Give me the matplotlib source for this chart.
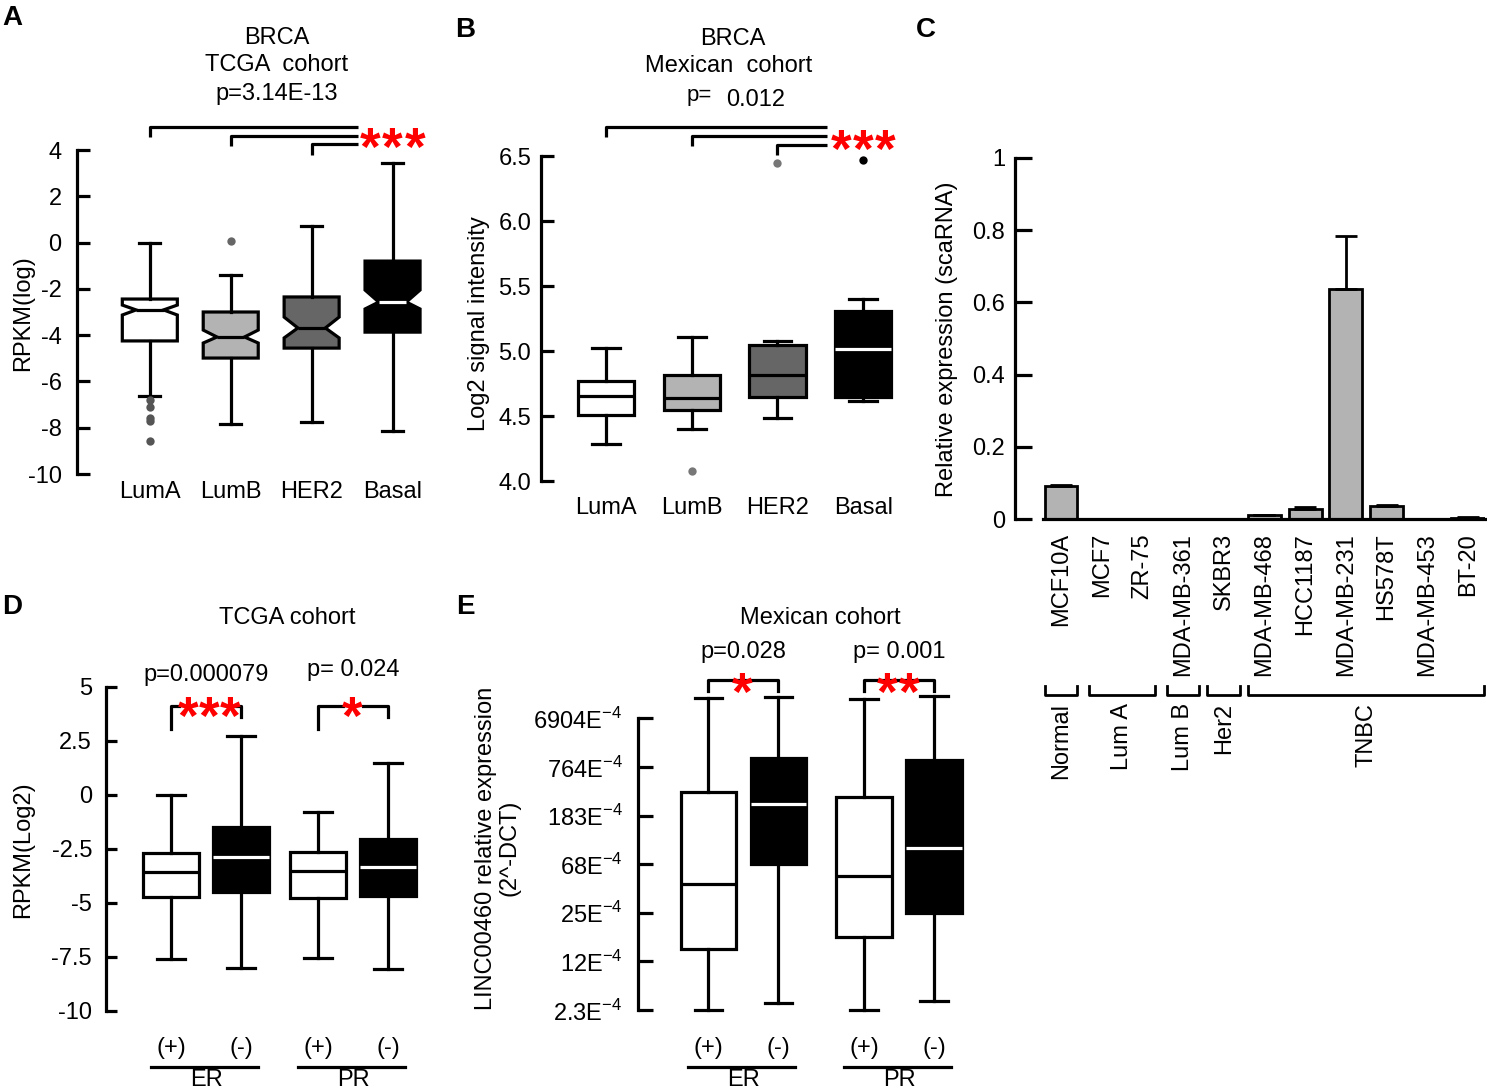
import matplotlib
matplotlib.use('Agg')
import matplotlib.pyplot as plt
from matplotlib.transforms import blended_transform_factory

plt.rcParams['font.family'] = ['Liberation Sans', 'DejaVu Sans']
plt.rcParams['mathtext.fontset'] = 'custom'
plt.rcParams['mathtext.rm'] = 'Liberation Sans'
plt.rcParams['axes.unicode_minus'] = False

W, H = 1487, 1092
LW = 2.3
FS = 17
STAR_FS = 38

# --- A: TCGA subtypes (notched boxes)
a_labels = ['LumA', 'LumB', 'HER2', 'Basal']
a_whislo = [-6.63, -7.86, -7.74, -8.15]
a_q1 = [-4.25, -4.99, -4.56, -3.87]
a_med = [-2.91, -4.08, -3.69, -2.57]
a_q3 = [-2.44, -3.00, -2.35, -0.80]
a_whishi = [0.0, -1.41, 0.72, 3.44]
a_cilo = [-3.13, -4.34, -4.12, -2.87]
a_cihi = [-2.70, -3.78, -3.22, -2.05]
a_fliers = [[-6.8, -7.1, -7.6, -7.7, -8.57], [0.05], [], []]

# --- B: Mexican cohort subtypes
b_labels = ['LumA', 'LumB', 'HER2', 'Basal']
b_whislo = [4.29, 4.40, 4.49, 4.62]
b_q1 = [4.51, 4.55, 4.65, 4.65]
b_med = [4.66, 4.64, 4.82, 5.02]
b_q3 = [4.77, 4.82, 5.05, 5.31]
b_whishi = [5.03, 5.11, 5.08, 5.40]
b_fliers = [[], [4.08], [6.45], [6.47]]

# --- C: cell lines
c_lines = ['MCF10A', 'MCF7', 'ZR-75', 'MDA-MB-361', 'SKBR3', 'MDA-MB-468',
           'HCC1187', 'MDA-MB-231', 'HS578T', 'MDA-MB-453', 'BT-20']
c_values = [0.092, 0, 0, 0, 0, 0.010, 0.028, 0.636, 0.036, 0, 0.004]
c_err = [0.003, 0, 0, 0, 0, 0.002, 0.005, 0.147, 0.003, 0, 0.002]
c_groups = ['Normal', 'Lum A', 'Lum B', 'Her2', 'TNBC']
c_group_span = [(0, 0), (1, 2), (3, 3), (4, 4), (5, 10)]

# --- D: TCGA ER / PR
d_labels = ['(+)', '(-)', '(+)', '(-)']
d_whislo = [-7.62, -8.04, -7.55, -8.06]
d_q1 = [-4.75, -4.49, -4.80, -4.68]
d_med = [-3.56, -2.87, -3.53, -3.33]
d_q3 = [-2.69, -1.48, -2.67, -2.07]
d_whishi = [0.0, 2.72, -0.79, 1.45]

# --- E: Mexican ER / PR (axis in tick steps)
e_ticklabels = ['2.3E$^{-4}$', '12E$^{-4}$', '25E$^{-4}$', '68E$^{-4}$',
                '183E$^{-4}$', '764E$^{-4}$', '6904E$^{-4}$']
e_whislo = [0.01, 0.15, 0.0, 0.19]
e_q1 = [1.26, 3.0, 1.50, 2.0]
e_med = [2.59, 4.24, 2.76, 3.33]
e_q3 = [4.48, 5.19, 4.39, 5.14]
e_whishi = [6.41, 6.43, 6.40, 6.45]

pair_groups = ['ER', 'PR']


def rect(x0, y0, x1, y1):
    return [x0 / W, 1 - y1 / H, (x1 - x0) / W, (y1 - y0) / H]


def px(x, y):
    return x / W, 1 - y / H


def make_stats(lo, q1, med, q3, hi, fl=None, cilo=None, cihi=None):
    out = []
    for i in range(len(med)):
        d = dict(whislo=lo[i], q1=q1[i], med=med[i], q3=q3[i], whishi=hi[i],
                 fliers=fl[i] if fl else [])
        if cilo is not None:
            d['cilo'] = cilo[i]
            d['cihi'] = cihi[i]
        out.append(d)
    return out


def draw_boxes(ax, st, pos, width, capw, faces, medc, notch=False, flc=None, ms=5):
    r = ax.bxp(st, positions=pos, widths=width, capwidths=capw, patch_artist=True,
               shownotches=notch, manage_ticks=False,
               boxprops=dict(lw=LW, edgecolor='black'),
               whiskerprops=dict(lw=LW, color='black'),
               capprops=dict(lw=LW, color='black'),
               medianprops=dict(lw=LW),
               flierprops=dict(marker='o', markersize=ms, markeredgecolor='none'))
    for b, f in zip(r['boxes'], faces):
        b.set_facecolor(f)
    for m, c in zip(r['medians'], medc):
        m.set_color(c)
    if flc:
        for f, c in zip(r['fliers'], flc):
            f.set_markerfacecolor(c)
    for k in r:
        for art in r[k]:
            art.set_clip_on(False)


def style(ax, ticklen, ypad, xpad):
    for s in ['top', 'right', 'bottom']:
        ax.spines[s].set_visible(False)
    ax.spines['left'].set_linewidth(LW)
    ax.tick_params(axis='y', direction='in', length=ticklen, width=LW,
                   pad=ypad, labelsize=FS)
    ax.tick_params(axis='x', length=0, pad=xpad, labelsize=FS)


def stars(xs, yc):
    # red significance asterisks, centred (in pixels) on yc
    for x in xs:
        fig.text(*px(x, yc + 0.57 * STAR_FS * 100 / 72), '*', color='red',
                 fontsize=STAR_FS, fontweight='bold', ha='center', va='baseline')


fig = plt.figure(figsize=(W / 100, H / 100), dpi=100)

# ================= A
axA = fig.add_axes(rect(77, 150, 433, 474))
posA = [1, 2, 3, 4]
draw_boxes(axA, make_stats(a_whislo, a_q1, a_med, a_q3, a_whishi, a_fliers, a_cilo, a_cihi),
           posA, 0.68, 0.26, ['white', '#b3b3b3', '#666666', 'black'],
           ['black', 'black', 'black', 'white'], notch=True,
           flc=['#555555', '#666666', '#666666', 'black'], ms=6)
axA.set_xlim(0.1, 4.5)
axA.set_ylim(-10, 4)
axA.set_yticks(range(-10, 5, 2))
axA.set_xticks(posA, a_labels)
style(axA, 9, 11, 5)
for i, (yl, drop) in enumerate([(4.99, 0.43), (4.6, 0.43), (4.26, 0.48)]):
    axA.plot([posA[i], posA[i], 3.57], [yl - drop, yl, yl], color='black', lw=LW,
             clip_on=False, solid_capstyle='butt')
stars([370, 392, 415], 135)
fig.text(*px(23, 313), 'RPKM(log)', rotation=90, ha='center', va='center', fontsize=FS)
fig.text(*px(277, 38), 'BRCA', ha='center', va='center', fontsize=FS)
fig.text(*px(277, 65), 'TCGA  cohort', ha='center', va='center', fontsize=FS)
fig.text(*px(277, 94), 'p=3.14E-13', ha='center', va='center', fontsize=FS)

# ================= B
axB = fig.add_axes(rect(541, 156.4, 906, 481.4))
posB = [1, 2, 3, 4]
draw_boxes(axB, make_stats(b_whislo, b_q1, b_med, b_q3, b_whishi, b_fliers),
           posB, 0.66, 0.32, ['white', '#b3b3b3', '#666666', 'black'],
           ['black', 'black', 'black', 'white'],
           flc=['#777777', '#777777', '#777777', 'black'], ms=6)
axB.set_xlim(0.24, 4.5)
axB.set_ylim(4.0, 6.5)
axB.set_yticks([4.0, 4.5, 5.0, 5.5, 6.0, 6.5], ['4.0', '4.5', '5.0', '5.5', '6.0', '6.5'])
axB.set_xticks(posB, b_labels)
style(axB, 9, 7, 11)
for i, yl in enumerate([6.726, 6.656, 6.586]):
    axB.plot([posB[i], posB[i], 3.58], [yl - 0.078, yl, yl], color='black', lw=LW,
             clip_on=False, solid_capstyle='butt')
stars([841, 863, 885], 137)
fig.text(*px(479, 324), 'Log2 signal intensity', rotation=90, ha='center', va='center', fontsize=FS)
fig.text(*px(733, 39), 'BRCA', ha='center', va='center', fontsize=FS)
fig.text(*px(729, 66), 'Mexican  cohort', ha='center', va='center', fontsize=FS)
fig.text(*px(699, 96), 'p=', ha='center', va='center', fontsize=16)
fig.text(*px(756, 100), '0.012', ha='center', va='center', fontsize=FS)

# ================= C
axC = fig.add_axes(rect(1015, 158, 1485, 519))
posC = list(range(len(c_lines)))
axC.bar(posC, c_values, width=0.81, color='#b3b3b3', edgecolor='black', lw=2)
axC.errorbar(posC, c_values, yerr=[[0] * len(c_err), c_err], fmt='none', ecolor='black',
             elinewidth=2, capsize=8, capthick=2)
axC.set_xlim(-1.13, 10.42)
axC.set_ylim(0, 1)
axC.set_yticks([0, 0.2, 0.4, 0.6, 0.8, 1], ['0', '0.2', '0.4', '0.6', '0.8', '1'])
axC.set_xticks(posC, c_lines, rotation=90)
style(axC, 12, 7, 10)
axC.spines['bottom'].set_visible(True)
axC.spines['bottom'].set_linewidth(LW)
axC.spines['bottom'].set_bounds(-0.45, 10.42)
trC = blended_transform_factory(axC.transData, fig.transFigure)
for name, (i0, i1) in zip(c_groups, c_group_span):
    x0, x1 = i0 - 0.4, i1 + 0.4
    if name == 'Lum A':
        x0, x1 = i0 - 0.3, i1 + 0.3
    axC.plot([x0, x0, x1, x1], [1 - 686 / H, 1 - 695 / H, 1 - 695 / H, 1 - 686 / H],
             color='black', lw=2, transform=trC, clip_on=False)
    axC.text((i0 + i1) / 2, 1 - 703 / H, name, rotation=90, ha='center', va='top',
             fontsize=FS, transform=trC)
fig.text(*px(947, 339), 'Relative expression (scaRNA)', rotation=90, ha='center',
         va='center', fontsize=FS)

# ================= D
axD = fig.add_axes(rect(106, 686.7, 423, 1010.7))
posD = [1, 2, 3.1, 4.1]
draw_boxes(axD, make_stats(d_whislo, d_q1, d_med, d_q3, d_whishi),
           posD, 0.8, 0.39, ['white', 'black', 'white', 'black'],
           ['black', 'white', 'black', 'white'])
axD.set_xlim(0.07, 4.6)
axD.set_ylim(-10, 5)
axD.set_yticks([5, 2.5, 0, -2.5, -5, -7.5, -10], ['5', '2.5', '0', '-2.5', '-5', '-7.5', '-10'])
axD.set_xticks(posD, d_labels)
style(axD, 8, 10, 19)
for j, gap in enumerate([0.38, 0.14]):
    xa, xb = posD[2 * j], posD[2 * j + 1]
    xm = (xa + xb) / 2
    axD.plot([xa, xa, xm - gap], [3.04, 4.12, 4.12], color='black', lw=LW, clip_on=False)
    axD.plot([xm + gap, xb, xb], [4.12, 4.12, 3.6], color='black', lw=LW, clip_on=False)
stars([188, 209, 230], 704)
stars([352], 704)
axD.text((posD[0] + posD[1]) / 2, 5.54, 'p=0.000079', ha='center', va='center', fontsize=FS,
         clip_on=False)
axD.text((posD[2] + posD[3]) / 2, 5.77, 'p= 0.024', ha='center', va='center', fontsize=FS,
         clip_on=False)
fig.text(*px(23, 850), 'RPKM(Log2)', rotation=90, ha='center', va='center', fontsize=FS)
fig.text(*px(287, 618), 'TCGA cohort', ha='center', va='center', fontsize=FS)
trD = blended_transform_factory(axD.transData, fig.transFigure)
for j, g in enumerate(pair_groups):
    xa, xb = posD[2 * j], posD[2 * j + 1]
    axD.plot([xa - 0.28, xb + 0.24], [1 - 1067 / H] * 2, color='black', lw=LW,
             transform=trD, clip_on=False)
    axD.text((xa + xb) / 2, 1 - 1080 / H, g, ha='center', va='center', fontsize=FS,
             transform=trD)

# ================= E
axE = fig.add_axes(rect(637.7, 689.2, 969, 1017.3))
posE = [1, 2, 3.22, 4.22]
draw_boxes(axE, make_stats(e_whislo, e_q1, e_med, e_q3, e_whishi),
           posE, 0.79, 0.39, ['white', 'black', 'white', 'black'],
           ['black', 'white', 'black', 'white'])
axE.set_xlim(-0.01, 4.72)
axE.set_ylim(-0.15, 6.6)
axE.set_yticks(range(7), e_ticklabels)
axE.set_xticks(posE, d_labels)
style(axE, 11, 11, 14)
axE.spines['left'].set_bounds(0, 6)
for j in range(2):
    xa, xb = posE[2 * j], posE[2 * j + 1]
    axE.plot([xa, xa, xb, xb], [6.56, 6.79, 6.79, 6.56], color='black', lw=LW, clip_on=False)
stars([742], 680)
stars([887, 909], 680)
axE.text((posE[0] + posE[1]) / 2, 7.37, 'p=0.028', ha='center', va='center', fontsize=FS,
         clip_on=False)
axE.text((posE[2] + posE[3]) / 2, 7.37, 'p= 0.001', ha='center', va='center', fontsize=FS,
         clip_on=False)
fig.text(*px(498, 848), 'LINC00460 relative expression\n(2^-DCT)', rotation=90,
         ha='center', va='center', fontsize=FS, linespacing=1.1)
fig.text(*px(820, 618), 'Mexican cohort', ha='center', va='center', fontsize=FS)
trE = blended_transform_factory(axE.transData, fig.transFigure)
for j, g in enumerate(pair_groups):
    xa, xb = posE[2 * j], posE[2 * j + 1]
    axE.plot([xa - 0.29, xb + 0.24], [1 - 1067 / H] * 2, color='black', lw=LW,
             transform=trE, clip_on=False)
    axE.text((xa + xb) / 2, 1 - 1080 / H, g, ha='center', va='center', fontsize=FS,
             transform=trE)

# panel letters
for letter, (x, y) in zip('ABCDE', [(12, 18), (465, 30), (926, 30), (12, 607), (465, 607)]):
    fig.text(*px(x, y), letter, ha='center', va='center', fontsize=20, fontweight='bold')

fig.savefig('out.png', dpi=100)
